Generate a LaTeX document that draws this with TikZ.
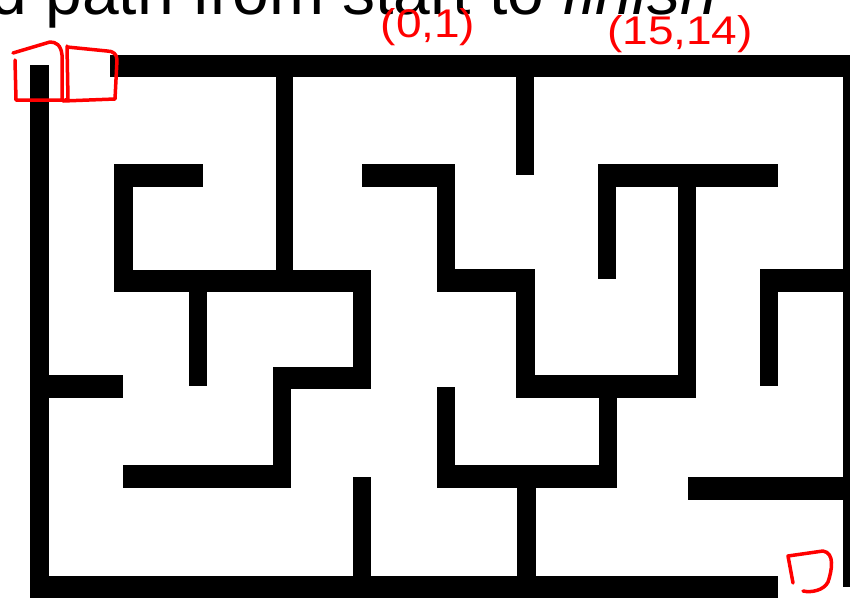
\documentclass[tikz,border=0pt]{standalone}
\usepackage{fontspec}
\setmainfont{Liberation Sans}
\begin{document}
\begin{tikzpicture}[x=1pt,y=-1pt,
  wall/.style={fill=black},
  redink/.style={draw=red, line width=3.5pt, line cap=round, line join=round},
  note/.style={text=red, font=\fontsize{40}{40}\selectfont, inner sep=0pt, xscale=1.15},
  title/.style={font=\fontsize{66}{66}\selectfont, inner sep=0pt, anchor=base east}]
\useasboundingbox (0,0) rectangle (850,597);
\fill[white] (0,0) rectangle (850,597);
% heading (cut off at the top)
\node[title] (head) at (717,14) {d path from start to \textit{finish}};
% outer walls
\fill[wall] (110,55) rectangle (852,77);
\fill[wall] (30,65) rectangle (49,599);
\fill[wall] (30,576) rectangle (778,599);
\fill[wall] (843,55) rectangle (852,587);
% interior walls
\fill[wall] (276,77) rectangle (293,292);
\fill[wall] (114,164) rectangle (203,187);
\fill[wall] (114,164) rectangle (133,292);
\fill[wall] (114,270) rectangle (371,292);
\fill[wall] (189,292) rectangle (207,386);
\fill[wall] (353,270) rectangle (371,389);
\fill[wall] (273,367) rectangle (371,389);
\fill[wall] (273,367) rectangle (291,488);
\fill[wall] (123,465) rectangle (291,488);
\fill[wall] (49,375) rectangle (123,398);
\fill[wall] (516,77) rectangle (534,175);
\fill[wall] (362,164) rectangle (455,187);
\fill[wall] (437,164) rectangle (455,292);
\fill[wall] (437,269) rectangle (534,292);
\fill[wall] (516,269) rectangle (535,398);
\fill[wall] (516,375) rectangle (696,398);
\fill[wall] (598,164) rectangle (778,187);
\fill[wall] (598,164) rectangle (616,279);
\fill[wall] (678,164) rectangle (696,398);
\fill[wall] (599,398) rectangle (617,488);
\fill[wall] (437,465) rectangle (617,488);
\fill[wall] (437,387) rectangle (455,488);
\fill[wall] (517,465) rectangle (536,599);
\fill[wall] (353,477) rectangle (371,599);
\fill[wall] (760,269) rectangle (845,292);
\fill[wall] (760,269) rectangle (778,386);
\fill[wall] (688,477) rectangle (852,500);
% red annotations
\node[note] (n1) at (428,27) {(0,1)};
\node[note] (n2) at (680,34) {(15,14)};
\draw[redink] (15,60) -- (16,100) -- (62,100) -- (62,55) .. controls (61,45) and (56,42) .. (50,42) -- (13,53);
\draw[redink] (67,46) -- (68,99) -- (63,101) -- (115,99) -- (117,60) .. controls (117,54) and (113,51) .. (107,51) -- (67,47);
\draw[redink] (793,583) -- (788,556) -- (823,551) .. controls (835,553) and (832,570) .. (828,582) .. controls (824,590) and (812,593) .. (803,591);
\end{tikzpicture}
\end{document}
